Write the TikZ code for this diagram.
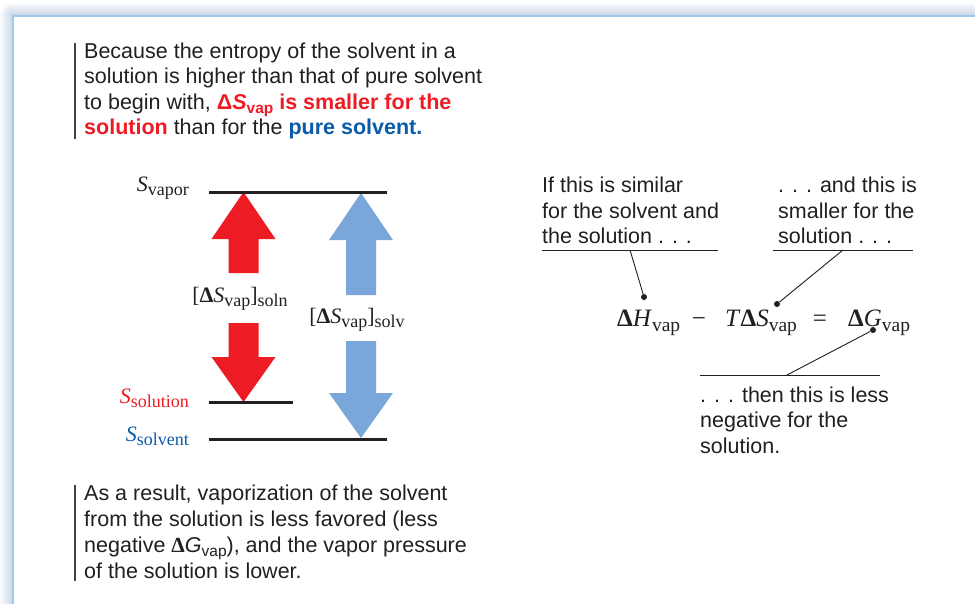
\documentclass[tikz,border=0pt]{standalone}
\usepackage{fontspec}
\setmainfont{Liberation Sans}
\newfontfamily\serif{Liberation Serif}
\usetikzlibrary{positioning}

\definecolor{ink}{HTML}{231F20}
\definecolor{hotred}{HTML}{ED1C24}
\definecolor{deepblue}{HTML}{0B5CA8}
\definecolor{paleblue}{HTML}{7AA6DA}
\definecolor{framebl}{HTML}{A3C8EE}
\definecolor{shadowbl}{HTML}{C4D3E8}

% lowered small text for subscripts (size and drop set by the node font)
\def\subpt{15.5}\def\subdrop{4pt}
\newcommand\lowr[1]{\raisebox{-\subdrop}{\fontsize{\subpt}{\subpt}\selectfont #1}}
% fat block arrow: colour, x, tip y, head base y, tail y
\newcommand\fatarrow[5]{\fill[#1] (#2,#3) -- (#2+32,#4) -- (#2+15,#4) -- (#2+15,#5)
  -- (#2-15,#5) -- (#2-15,#4) -- (#2-32,#4) -- cycle;}

\begin{document}
\begin{tikzpicture}[x=1pt,y=-1pt,
  font=\fontsize{21.5}{25.5}\selectfont,
  para/.style={align=left,inner sep=0pt,anchor=north west,text=ink},
  sym/.style={font=\serif\fontsize{22}{26}\selectfont\def\subpt{18}\def\subdrop{4.5pt},inner sep=0pt,text=ink},
  eqn/.style={font=\serif\fontsize{25}{29}\selectfont\def\subpt{19.5}\def\subdrop{5pt},inner sep=0pt,text=ink,anchor=base west},
  level/.style={draw=ink,line width=2.2pt},
  bar/.style={draw=ink!85,line width=1.3pt},
  rule/.style={draw=ink,line width=0.9pt},
  lead/.style={draw=ink,line width=0.9pt},
  dot/.style={circle,fill=ink,inner sep=0pt,minimum size=6pt}]
\useasboundingbox (0,0) rectangle (975,603);
\fill[white] (0,0) rectangle (975,603);

% panel shadow and border
\foreach \i in {13,12,...,0}{
  \pgfmathsetmacro\tone{100-7.5*\i}
  \draw[line width=1.2pt,draw=shadowbl!\tone!white,rounded corners=\i pt]
    (13-\i,640) -- (13-\i,16-\i) -- (1000,16-\i);
}
\draw[draw=framebl,line width=1.8pt] (13,640) -- (13,16) -- (1000,16);

% top and bottom paragraphs
\node[para] (why) at (84,42.5) {Because the entropy of the solvent in a\\
  solution is higher than that of pure solvent\\
  to begin with, {\color{hotred}\bfseries Δ\textit{S}\lowr{vap} is smaller for the}\\
  {\color{hotred}\bfseries solution} than for the {\color{deepblue}\bfseries pure solvent.}};
\draw[bar] ([xshift=-9pt]why.north west) -- ([xshift=-9pt]why.south west);

\node[para,font=\fontsize{21.5}{26}\selectfont] (result) at (84,485) {As a result, vaporization of the solvent\\
  from the solution is less favored (less\\
  negative {\serif\bfseries Δ}\textit{G}\lowr{vap}), and the vapor pressure\\
  of the solution is lower.};
\draw[bar] ([xshift=-9pt]result.north west) -- ([xshift=-9pt,yshift=-2pt]result.south west);

% entropy levels
\fatarrow{hotred}{243.5}{192}{239}{273}
\fatarrow{hotred}{243.5}{402}{357}{323}
\fatarrow{paleblue}{361}{193}{240}{295}
\fatarrow{paleblue}{361}{438}{393}{341}

\coordinate (vapL) at (209,192.5);  \coordinate (vapR) at (387,192.5);
\coordinate (solnL) at (209,402.5); \coordinate (solnR) at (293,402.5);
\coordinate (solvL) at (209,439.5); \coordinate (solvR) at (387,439.5);
\draw[level] (vapL) -- (vapR);
\draw[level] (solnL) -- (solnR);
\draw[level] (solvL) -- (solvR);

\node[sym,anchor=base east] (Svap) at (189,191) {\textit{S}\lowr{vapor}};
\node[sym,anchor=base east,text=hotred] (Ssoln) at (189,403) {\textit{S}\lowr{solution}};
\node[sym,anchor=base east,text=deepblue] (Ssolv) at (189,441) {\textit{S}\lowr{solvent}};

\node[sym,anchor=base] (dSsoln) at (240,302) {[{\bfseries Δ}\textit{S}\lowr{vap}]\lowr{soln}};
\node[sym,anchor=base] (dSsolv) at (357,323) {[{\bfseries Δ}\textit{S}\lowr{vap}]\lowr{solv}};

% Gibbs equation with callouts
\node[eqn] (dH) at (617,326) {{\bfseries Δ}\textit{H}\lowr{vap}};
\node[eqn,anchor=base] (minus) at (699,326) {−};
\node[eqn] (TdS) at (725,326) {\textit{T}{\bfseries Δ}\textit{S}\lowr{vap}};
\node[eqn,anchor=base] (equals) at (820,326) {=};
\node[eqn] (dG) at (848,326) {{\bfseries Δ}\textit{G}\lowr{vap}};

\node[para] (similar) at (542,177) {If this is similar\\for the solvent and\\the solution . . .};
\node[para] (smaller) at (778,177) {. . . and this is\\smaller for the\\solution . . .};
\node[para] (lessneg) at (700,386.5) {. . . then this is less\\negative for the\\solution.};

\coordinate (simL) at (542,250); \coordinate (simR) at (718,250); \coordinate (simK) at (630,250);
\coordinate (smlL) at (773,250); \coordinate (smlR) at (913,250); \coordinate (smlK) at (843,250);
\coordinate (negL) at (700,375); \coordinate (negR) at (880,375); \coordinate (negK) at (787,375);
\draw[rule] (simL) -- (simR);
\draw[rule] (smlL) -- (smlR);
\draw[rule] (negL) -- (negR);

\node[dot] (dotH) at (644,297) {};
\node[dot] (dotS) at (777,304) {};
\node[dot] (dotG) at (873,330) {};
\draw[lead] (simK) -- (dotH);
\draw[lead] (smlK) -- (dotS);
\draw[lead] (negK) -- (dotG);
\end{tikzpicture}
\end{document}
